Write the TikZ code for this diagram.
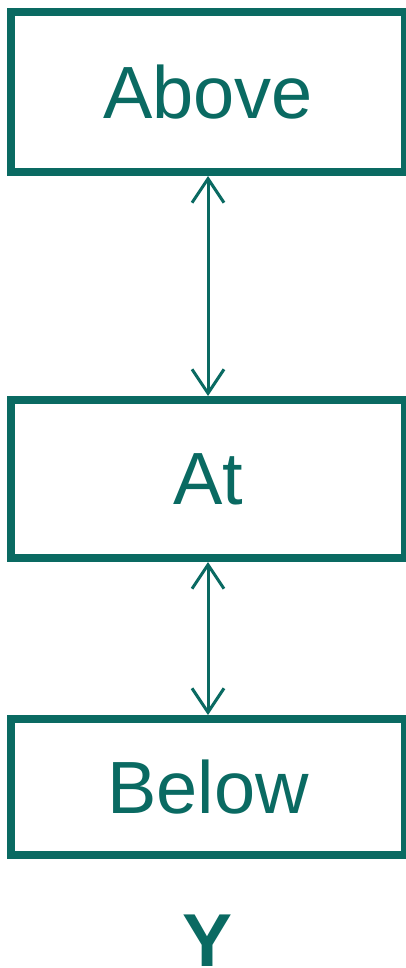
\documentclass[tikz,border=0pt]{standalone}
\usepackage{fontspec}
\setmainfont{Liberation Sans}
\usepackage{tikz}
\usetikzlibrary{positioning,arrows.meta}
\definecolor{tealline}{RGB}{10,106,98}

\begin{document}
\begin{tikzpicture}[
x=1pt, y=1pt,
box/.style={draw=tealline, line width=8pt, minimum width=394pt, text=tealline, font=\fontsize{74}{80}\selectfont, inner sep=0pt},
arrow/.style={{Straight Barb[length=24pt,width=32pt]}-{Straight Barb[length=24pt,width=32pt]}, line width=3pt, tealline}
]
\useasboundingbox (0,0) rectangle (405,-968);
\node[box, minimum height=160pt] (above) at (208,-92) {Above};
\node[box, minimum height=158pt, below=220pt of above] (at) {At};
\node[box, minimum height=136pt, below=153pt of at] (below) {Below};
\node[anchor=base, text=tealline, font=\fontsize{75}{80}\selectfont\bfseries] (axis) at (208,-966) {Y};
\draw[arrow] (above) -- (at);
\draw[arrow] (at) -- (below);
\end{tikzpicture}
\end{document}
